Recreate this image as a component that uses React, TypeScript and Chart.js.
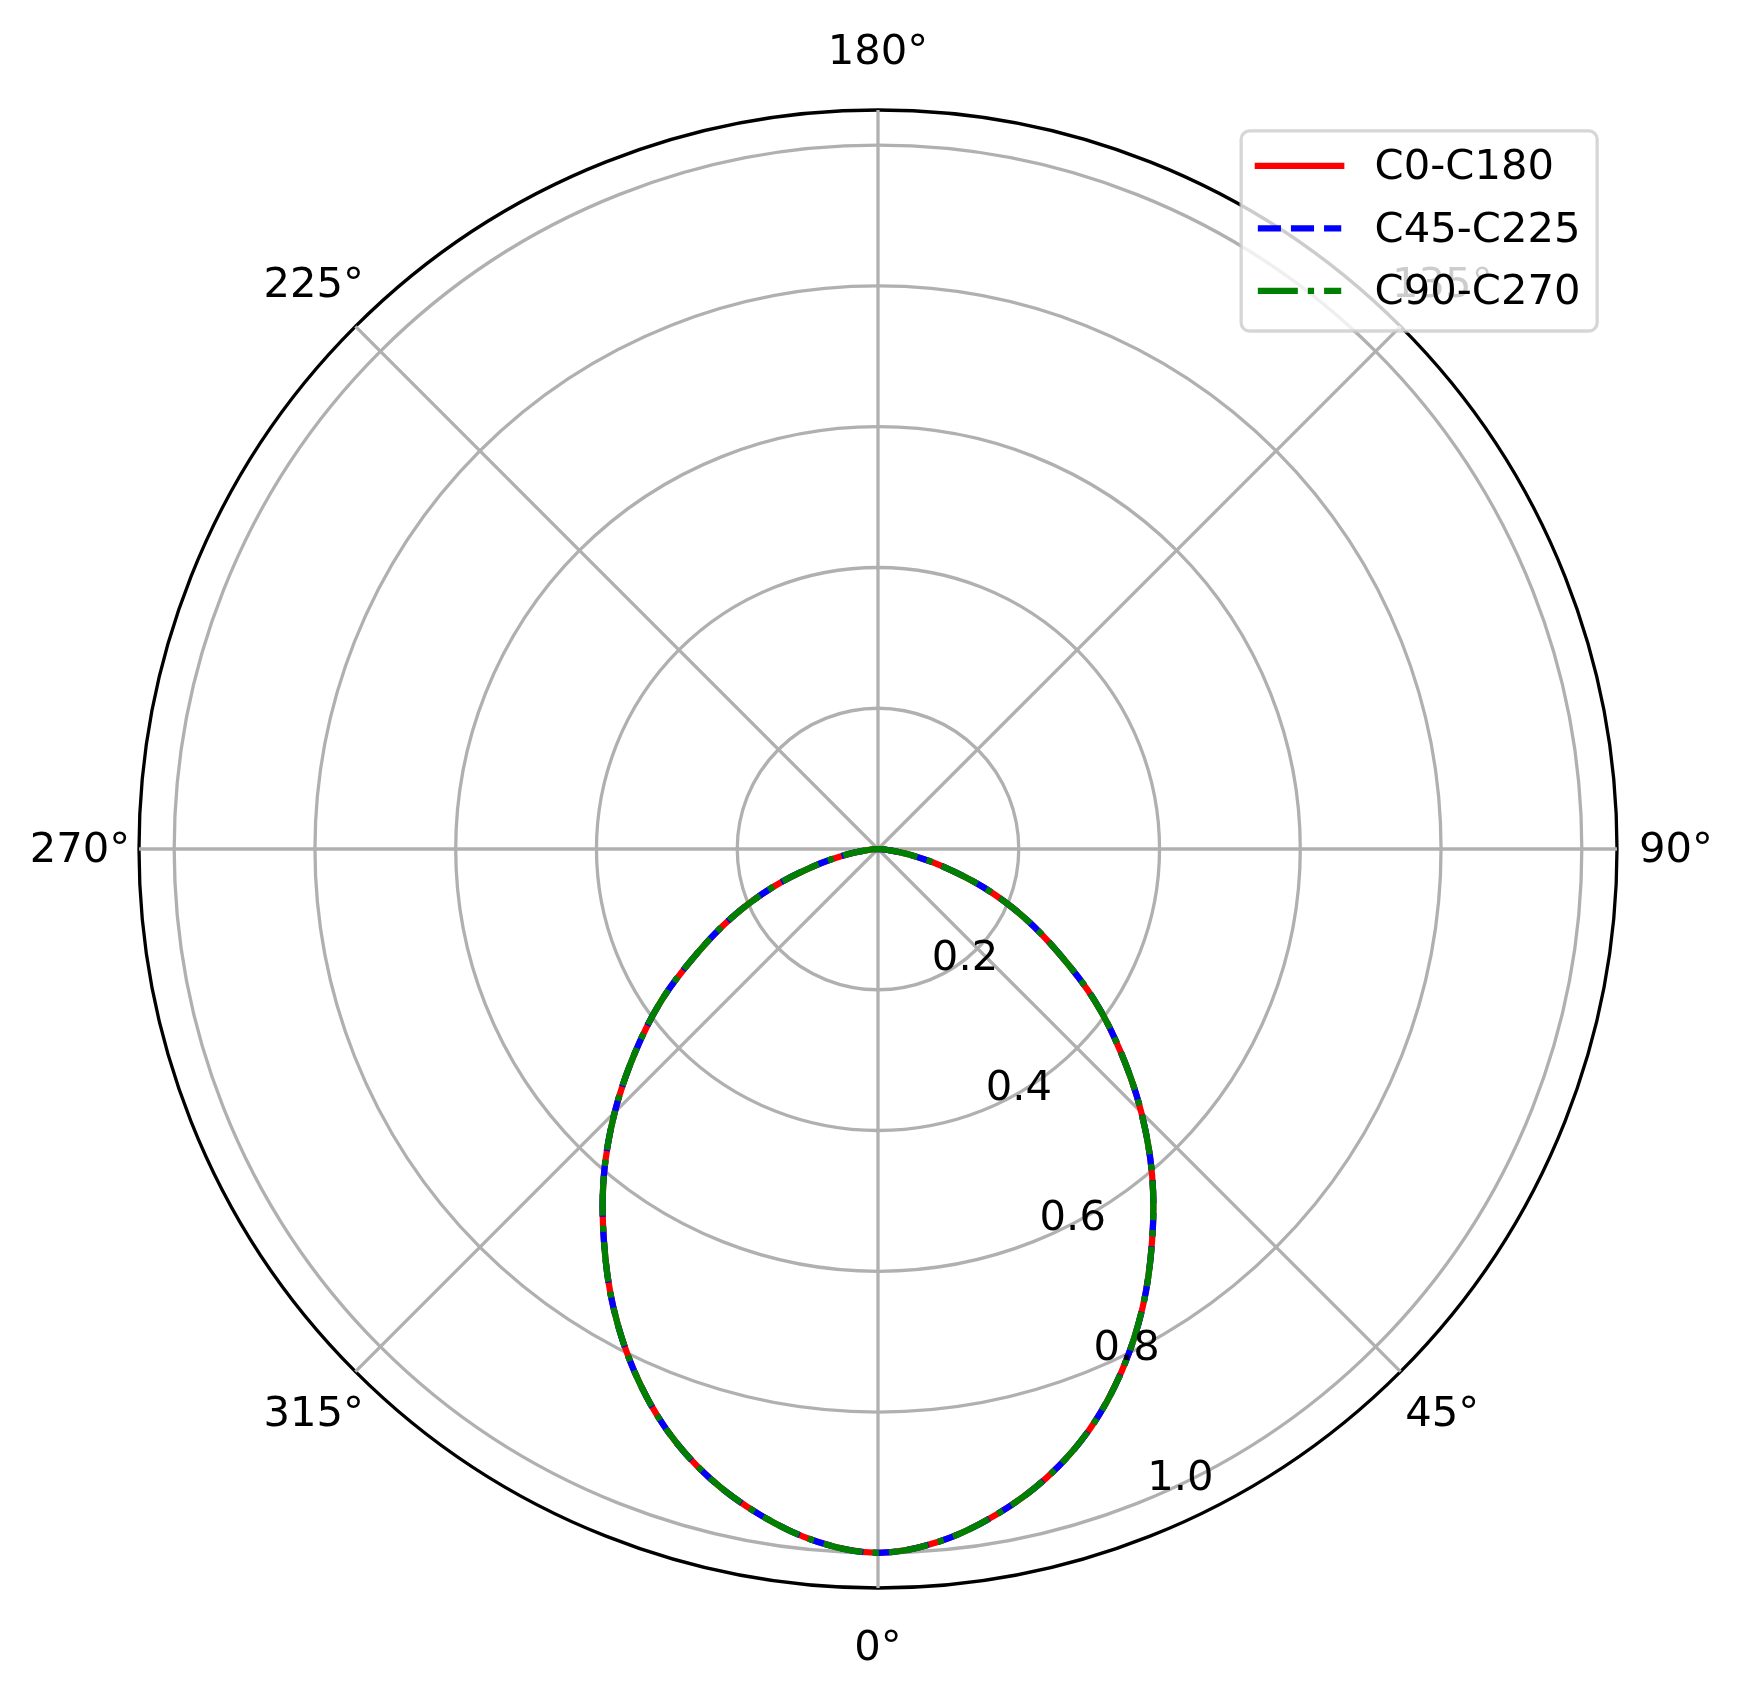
import React, { useEffect, useRef } from 'react';
import { Chart, registerables } from 'chart.js';

Chart.register(...registerables);

// ---- data (angles in degrees, 0° at bottom, counter-clockwise) ----
const ANGLES_DEG = [
  0, 5, 10, 15, 20, 25, 30, 35, 40, 45, 50, 55, 60, 65, 70, 75, 80, 85,
  90, 95, 100, 105, 110, 115, 120, 125, 130, 135, 140, 145, 150, 155, 160, 165, 170, 175,
  180, 185, 190, 195, 200, 205, 210, 215, 220, 225, 230, 235, 240, 245, 250, 255, 260, 265,
  270, 275, 280, 285, 290, 295, 300, 305, 310, 315, 320, 325, 330, 335, 340, 345, 350, 355,
];

const C0_C180 = [
  1.0, 0.988, 0.961, 0.925, 0.878, 0.819, 0.752, 0.679, 0.606, 0.529, 0.451, 0.376, 0.297, 0.228, 0.16, 0.095, 0.045, 0.012,
  0, 0, 0, 0, 0, 0, 0, 0, 0, 0, 0, 0, 0, 0, 0, 0, 0, 0,
  0, 0, 0, 0, 0, 0, 0, 0, 0, 0, 0, 0, 0, 0, 0, 0, 0, 0,
  0, 0.012, 0.045, 0.095, 0.16, 0.228, 0.297, 0.376, 0.451, 0.529, 0.606, 0.679, 0.752, 0.819, 0.878, 0.925, 0.961, 0.988,
];

const C45_C225 = [
  1.0, 0.988, 0.961, 0.925, 0.878, 0.819, 0.752, 0.679, 0.606, 0.529, 0.451, 0.376, 0.297, 0.228, 0.16, 0.095, 0.045, 0.012,
  0, 0, 0, 0, 0, 0, 0, 0, 0, 0, 0, 0, 0, 0, 0, 0, 0, 0,
  0, 0, 0, 0, 0, 0, 0, 0, 0, 0, 0, 0, 0, 0, 0, 0, 0, 0,
  0, 0.012, 0.045, 0.095, 0.16, 0.228, 0.297, 0.376, 0.451, 0.529, 0.606, 0.679, 0.752, 0.819, 0.878, 0.925, 0.961, 0.988,
];

const C90_C270 = [
  1.0, 0.988, 0.961, 0.925, 0.878, 0.819, 0.752, 0.679, 0.606, 0.529, 0.451, 0.376, 0.297, 0.228, 0.16, 0.095, 0.045, 0.012,
  0, 0, 0, 0, 0, 0, 0, 0, 0, 0, 0, 0, 0, 0, 0, 0, 0, 0,
  0, 0, 0, 0, 0, 0, 0, 0, 0, 0, 0, 0, 0, 0, 0, 0, 0, 0,
  0, 0.012, 0.045, 0.095, 0.16, 0.228, 0.297, 0.376, 0.451, 0.529, 0.606, 0.679, 0.752, 0.819, 0.878, 0.925, 0.961, 0.988,
];

const SERIES_NAMES = ['C0-C180', 'C45-C225', 'C90-C270'];
const ANGLE_TICKS = [0, 45, 90, 135, 180, 225, 270, 315];
const ANGLE_TICK_LABELS = ['0°', '45°', '90°', '135°', '180°', '225°', '270°', '315°'];
const RADIAL_TICKS = [0.2, 0.4, 0.6, 0.8, 1.0];
const RADIAL_TICK_LABELS = ['0.2', '0.4', '0.6', '0.8', '1.0'];
const R_MAX = 1.05;
const RLABEL_ANGLE = 22.5;

// ---- styling ----
const FONT = "41.7px 'DejaVu Sans'";
const GRID_COLOR = '#b0b0b0';
const GRID_WIDTH = 3.3;
const LINE_WIDTH = 6.25;
const STEP = 5;

// radar index k runs clockwise from the top; the top is 180°, clockwise decreasing
const RADAR_ANGLES = ANGLES_DEG.map((_, k) => (((180 - STEP * k) % 360) + 360) % 360);
const toRadar = (series: number[]) => RADAR_ANGLES.map((a) => series[ANGLES_DEG.indexOf(a)]);

const SERIES = [
  { name: SERIES_NAMES[0], values: C0_C180, color: '#ff0000', dash: [] as number[], cap: 'square', order: 2 },
  { name: SERIES_NAMES[1], values: C45_C225, color: '#0000ff', dash: [23.1, 10], cap: 'butt', order: 1 },
  { name: SERIES_NAMES[2], values: C90_C270, color: '#008000', dash: [40, 10, 6.25, 10], cap: 'butt', order: 0 },
];

const labelsPlugin = {
  id: 'polarLabels',
  afterDatasetsDraw(chart: any) {
    const ctx = chart.ctx;
    const scale = chart.scales.r;
    const cx = scale.xCenter;
    const cy = scale.yCenter;
    ctx.save();
    ctx.font = FONT;
    ctx.fillStyle = '#000';
    // angular labels
    ctx.textAlign = 'center';
    ctx.textBaseline = 'alphabetic';
    ANGLE_TICKS.forEach((a, i) => {
      const k = RADAR_ANGLES.indexOf(a);
      const p = scale.getPointPosition(k, scale.drawingArea + 59);
      ctx.fillText(ANGLE_TICK_LABELS[i], p.x, p.y + 12.6);
    });
    // radial labels
    ctx.textAlign = 'left';
    const t = (RLABEL_ANGLE * Math.PI) / 180;
    RADIAL_TICKS.forEach((v, i) => {
      const d = scale.getDistanceFromCenterForValue(v);
      const x = cx + d * Math.sin(t);
      const y = cy + d * Math.cos(t);
      ctx.fillText(RADIAL_TICK_LABELS[i], x, y - 9.5);
    });
    ctx.restore();
  },
  afterDraw(chart: any) {
    const ctx = chart.ctx;
    const area = chart.chartArea;
    const fs = 41.7;
    ctx.save();
    ctx.font = FONT;
    const textW = Math.max(...SERIES_NAMES.map((n) => ctx.measureText(n).width));
    const pad = 0.4 * fs;
    const handleLen = 2.0 * fs;
    const handleGap = 0.8 * fs;
    const w = pad + handleLen + handleGap + textW + pad;
    const h = 2 * pad + 3 * fs + 2 * 0.5 * fs;
    const right = area.right - 0.5 * fs;
    const top = area.top + 0.5 * fs;
    const left = right - w;
    ctx.beginPath();
    ctx.roundRect(left, top, w, h, 0.2 * fs);
    ctx.fillStyle = 'rgba(255,255,255,0.8)';
    ctx.fill();
    ctx.lineWidth = 3.3;
    ctx.strokeStyle = 'rgba(204,204,204,0.8)';
    ctx.stroke();
    chart.data.datasets.forEach((ds: any, i: number) => {
      const rowY = top + 35 + i * 1.5 * fs;
      const x0 = left + pad;
      ctx.beginPath();
      ctx.setLineDash(ds.borderDash || []);
      ctx.lineDashOffset = 0;
      ctx.lineCap = ds.borderCapStyle;
      ctx.strokeStyle = ds.borderColor;
      ctx.lineWidth = LINE_WIDTH;
      ctx.moveTo(x0, rowY);
      ctx.lineTo(x0 + handleLen, rowY);
      ctx.stroke();
      ctx.setLineDash([]);
      ctx.fillStyle = '#000';
      ctx.textAlign = 'left';
      ctx.textBaseline = 'alphabetic';
      ctx.fillText(ds.label, x0 + handleLen + handleGap, rowY + 13.5);
    });
    ctx.restore();
  },
};

export default function App() {
  const ref = useRef<HTMLCanvasElement>(null);
  useEffect(() => {
    if (!ref.current) return;
    const chart = new Chart(ref.current, {
      type: 'radar',
      data: {
        labels: RADAR_ANGLES.map((a) => `${a}°`),
        datasets: SERIES.map((s) => ({
          label: s.name,
          data: toRadar(s.values),
          borderColor: s.color,
          backgroundColor: s.color,
          borderWidth: LINE_WIDTH,
          borderDash: s.dash,
          borderCapStyle: s.cap as any,
          borderJoinStyle: 'round' as any,
          pointRadius: 0,
          pointHoverRadius: 0,
          fill: false,
          tension: 0.35,
          order: s.order,
        })),
      },
      options: {
        animation: false,
        responsive: false,
        devicePixelRatio: 1,
        layout: { padding: { left: 139, top: 110, right: 125, bottom: 109 } },
        plugins: { legend: { display: false }, tooltip: { enabled: false } },
        scales: {
          r: {
            type: 'radialLinear',
            min: 0,
            max: R_MAX,
            startAngle: 0,
            afterBuildTicks: (scale: any) => {
              scale.ticks = [0, ...RADIAL_TICKS, R_MAX].map((v) => ({ value: v }));
            },
            ticks: { display: false },
            pointLabels: { display: false },
            grid: {
              circular: true,
              color: (c: any) => (c.tick && c.tick.value === R_MAX ? '#000000' : GRID_COLOR),
              lineWidth: GRID_WIDTH,
            },
            angleLines: {
              display: true,
              color: GRID_COLOR,
              lineWidth: (c: any) => (ANGLE_TICKS.includes(RADAR_ANGLES[c.index]) ? GRID_WIDTH : 0),
            },
          },
        } as any,
      },
      plugins: [labelsPlugin],
    });
    return () => chart.destroy();
  }, []);
  return (
    <div style={{ position: 'absolute', left: 0, top: 0, width: 1743, height: 1698, background: '#ffffff' }}>
      <canvas ref={ref} width={1743} height={1698} style={{ width: 1743, height: 1698, display: 'block' }} />
    </div>
  );
}
